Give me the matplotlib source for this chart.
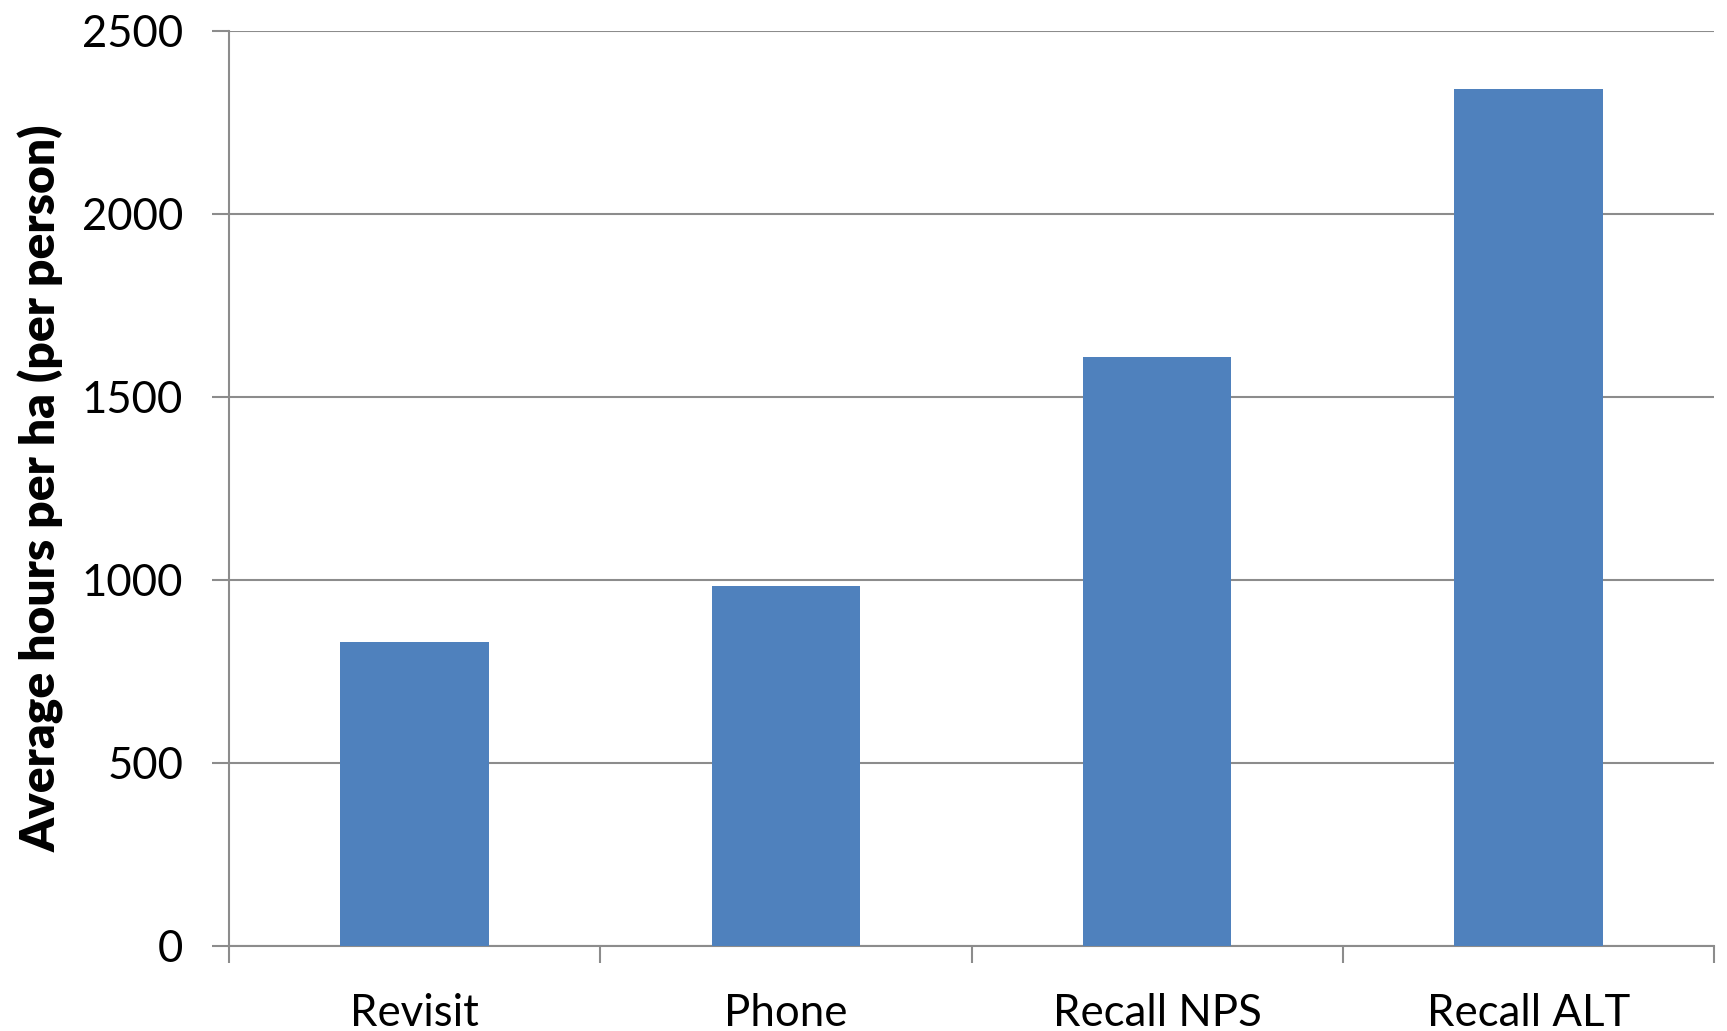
import matplotlib
matplotlib.use("Agg")
import matplotlib.pyplot as plt
import numpy as np

categories = ["Revisit", "Phone", "Recall NPS", "Recall ALT"]
hours_per_ha = [831, 984, 1609, 2342]
y_ticks = [0, 500, 1000, 1500, 2000, 2500]
y_label = "Average hours per ha (per person)"

bar_color = "#4F81BD"
grid_color = "#8C8C8C"

plt.rcParams["font.family"] = ["Lato", "DejaVu Sans"]

fig = plt.figure(figsize=(17.27, 10.31), dpi=100)
ax = fig.add_axes([0.1326, 0.0827, 0.8599, 0.8875])

x = np.arange(len(categories)) + 0.5
ax.bar(x, hours_per_ha, width=0.4, color=bar_color, zorder=3)

ax.set_xlim(0, len(categories))
ax.set_ylim(0, 2500)

# y axis: gridlines and outward ticks
ax.set_yticks(y_ticks)
ax.set_yticklabels([str(v) for v in y_ticks])
ax.yaxis.grid(True, color=grid_color, linewidth=1.5, zorder=0)
ax.tick_params(axis="y", direction="out", length=12, width=1.5, color=grid_color,
               labelsize=31.5, pad=21, labelcolor="black")

# x axis: ticks at category boundaries, labels at category centres
ax.set_xticks(np.arange(len(categories) + 1))
ax.set_xticklabels([])
ax.set_xticks(x, minor=True)
ax.set_xticklabels(categories, minor=True)
ax.tick_params(axis="x", which="major", direction="out", length=12, width=1.5,
               color=grid_color)
ax.tick_params(axis="x", which="minor", length=0, labelsize=31.5, pad=34,
               labelcolor="black")

for side in ("top", "right"):
    ax.spines[side].set_visible(False)
for side in ("left", "bottom"):
    ax.spines[side].set_color(grid_color)
    ax.spines[side].set_linewidth(1.5)

ax.set_ylabel(y_label, fontsize=34.5, fontweight="heavy")
ax.yaxis.set_label_coords(-0.111, 0.5)

fig.savefig("out.png", dpi=100, facecolor="white")
